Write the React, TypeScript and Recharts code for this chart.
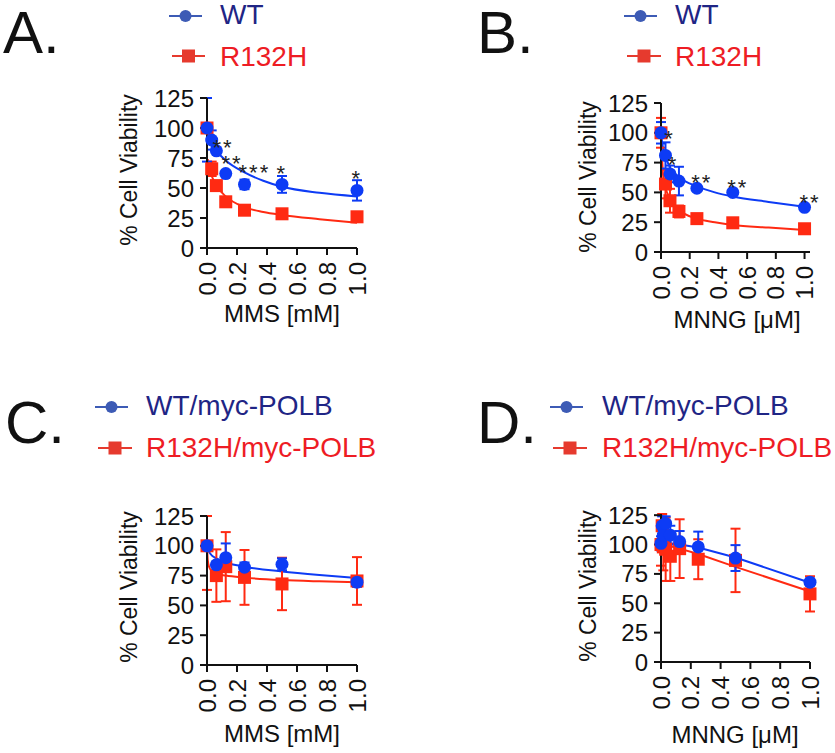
import React from 'react';
import { ComposedChart, Scatter, Line, XAxis, YAxis, ErrorBar, Legend } from 'recharts';

const BLUE = '#0d3bf5';
const RED = '#ff2a12';
const LEG_BLUE = '#3d5bb5';
const LEG_RED = '#e63a2e';
const TXT_BLUE = '#1f2585';
const TXT_RED = '#ee1c24';
const FONT = '"Liberation Sans", Arial, sans-serif';

const Y_TICKS = [0, 25, 50, 75, 100, 125];
const X_TICKS = [0, 0.2, 0.4, 0.6, 0.8, 1.0];

// A. MMS, WT vs R132H
const DOSE_A = [0, 0.03125, 0.0625, 0.125, 0.25, 0.5, 1.0];
const WT_A = [100, 90, 81, 62, 53, 53, 48];
const WT_A_ERR: (number | number[])[] = [[28, 25], 8, 0, 0, 4, 7, 8.5];
const R_A = [100, 66, 52, 38.5, 31.5, 28.5, 26];
const R_A_ERR = [0, 6, 2, 2, 3, 3, 3];
const FIT_WT_A_X = [0, 0.01, 0.03125, 0.0625, 0.125, 0.25, 0.375, 0.5, 0.75, 1.0];
const FIT_WT_A_Y = [100, 94, 87, 81, 73, 63, 56, 51, 46, 43];
const FIT_R_A_X = [0.005, 0.015, 0.03125, 0.0625, 0.125, 0.25, 0.375, 0.5, 0.75, 1.0];
const FIT_R_A_Y = [74, 66, 60, 52, 43, 34, 30, 27.5, 24, 21];
const STARS_A_X = [0.107, 0.167, 0.316, 0.498, 0.998];
const STARS_A_Y = [88.6, 75, 67.2, 66.4, 62.8];
const STARS_A_T = ['**', '**', '***', '*', '*'];

// B. MNNG, WT vs R132H
const DOSE_B = [0, 0.03125, 0.0625, 0.125, 0.25, 0.5, 1.0];
const WT_B = [100, 81, 65.5, 59.5, 53.5, 50, 37.5];
const WT_B_ERR = [9, 11, 7, 12, 1.5, 1.5, 1.5];
const R_B = [100, 57, 43, 34, 28, 24.5, 19.5];
const R_B_ERR = [12.5, 12, 10, 5, 1.5, 1.5, 1.5];
const FIT_WT_B_X = [0, 0.01, 0.03125, 0.0625, 0.125, 0.25, 0.375, 0.5, 0.75, 1.0];
const FIT_WT_B_Y = [100, 90, 80, 71, 63, 55, 50, 46.5, 42, 38];
const FIT_R_B_X = [0.003, 0.015, 0.03125, 0.0625, 0.125, 0.25, 0.375, 0.5, 0.75, 1.0];
const FIT_R_B_Y = [90, 64, 54, 45, 35.5, 28, 25, 22.7, 20.5, 18.5];
const STARS_B_X = [0.06, 0.083, 0.284, 0.535, 1.038];
const STARS_B_Y = [99.6, 77.8, 63.2, 59, 46.4];
const STARS_B_T = ['*', '*', '**', '**', '**'];

// C. MMS, +myc-POLB
const DOSE_C = [0, 0.0625, 0.125, 0.25, 0.5, 1.0];
const WT_C = [100, 84, 90, 82, 84.5, 69.5];
const WT_C_ERR = [2, 2, 12, 4, 5, 4];
const R_C = [100, 75, 82.5, 73.5, 68, 70.5];
const R_C_ERR: (number | number[])[] = [[37, 25], 22, 29, 23, 22, 20];
const FIT_WT_C_X = [0, 0.01, 0.03125, 0.0625, 0.125, 0.25, 0.5, 0.75, 1.0];
const FIT_WT_C_Y = [100, 96, 92, 89.5, 86, 82.5, 78.5, 75.5, 73];
const FIT_R_C_X = [0, 0.005, 0.015, 0.03125, 0.0625, 0.125, 0.25, 0.5, 0.75, 1.0];
const FIT_R_C_Y = [100, 88, 82, 79, 76.5, 75, 73.3, 71.3, 70.2, 69.4];

// D. MNNG, +myc-POLB
const DOSE_D = [0, 0.0078, 0.0156, 0.03125, 0.0625, 0.125, 0.25, 0.5, 1.0];
const WT_D = [101, 116, 108, 118, 108, 102.5, 98, 88.5, 68];
const WT_D_ERR = [6, 8, 6, 6, 8, 9, 13, 11, 3];
const R_D = [100, 116, 98, 96, 90, 96.5, 87.5, 86.5, 58];
const R_D_ERR = [18, 10, 20, 27, 21, 25, 17, 27, 15];
const FIT_WT_D_X = [0.02, 0.0625, 0.125, 0.25, 0.5, 1.0];
const FIT_WT_D_Y = [101.5, 101, 100, 97.5, 89, 67.5];
const FIT_R_D_X = [0.02, 0.0625, 0.125, 0.25, 0.5, 1.0];
const FIT_R_D_Y = [99.5, 98.5, 96.5, 92, 81, 60];

const pts = (xs: number[], ys: number[], errs?: (number | number[])[]) =>
  xs.map((x, i) => ({ x, y: ys[i], err: errs ? errs[i] : 0 }));
const stars = (xs: number[], ys: number[], ts: string[]) =>
  xs.map((x, i) => ({ x, y: ys[i], t: ts[i] }));

const Circle = (p: any) => <circle cx={p.cx} cy={p.cy} r={6.5} fill={BLUE} />;
const Square = (p: any) => <rect x={p.cx - 6.5} y={p.cy - 6.5} width={13} height={13} fill={RED} />;
const Star = (p: any) => (
  <text x={p.cx} y={p.cy + 13} textAnchor="middle" fontSize={22} letterSpacing={2} fill="#222">
    {p.payload.t}
  </text>
);

const RotTick = (p: any) => (
  <text
    x={p.x}
    y={p.y}
    transform={`rotate(-90 ${p.x} ${p.y})`}
    textAnchor="end"
    dominantBaseline="central"
    fontSize={24}
    fill="#111"
  >
    {Number(p.payload.value).toFixed(1)}
  </text>
);

type Row = { x1: number; x2: number; y: number; tx: number; ty: number };

function Panel(props: any) {
  const {
    left, top, width, height, margin, letter, letterX, letterY, rows, labels,
    yTitle, xTitle, wt, r, wtFit, rFit, starData, lineType,
  } = props;
  const legend = () => {
    const [b, rr]: Row[] = rows;
    return (
      <svg width={width} height={90} style={{ display: 'block' }}>
        <text x={letterX} y={letterY} fontSize={60} fill="#111">{letter}</text>
        <line x1={b.x1} x2={b.x2} y1={b.y} y2={b.y} stroke={LEG_BLUE} strokeWidth={2} />
        <circle cx={(b.x1 + b.x2) / 2} cy={b.y} r={6} fill={LEG_BLUE} />
        <text x={b.tx} y={b.ty} fontSize={28} fill={TXT_BLUE}>{labels[0]}</text>
        <line x1={rr.x1} x2={rr.x2} y1={rr.y} y2={rr.y} stroke={LEG_RED} strokeWidth={2} />
        <rect x={(rr.x1 + rr.x2) / 2 - 6.5} y={rr.y - 6.5} width={13} height={13} fill={LEG_RED} />
        <text x={rr.tx} y={rr.ty} fontSize={28} fill={TXT_RED}>{labels[1]}</text>
      </svg>
    );
  };
  return (
    <div style={{ position: 'absolute', left, top, width, height }}>
      <ComposedChart width={width} height={height} margin={margin}>
        <XAxis
          dataKey="x"
          type="number"
          domain={[0, 1]}
          ticks={X_TICKS}
          interval={0}
          tick={<RotTick />}
          tickSize={7}
          tickMargin={7}
          height={50}
          axisLine={{ stroke: '#111', strokeWidth: 2 }}
          tickLine={{ stroke: '#111', strokeWidth: 2 }}
          label={{
            content: () => (
              <text x={xTitle[1]} y={xTitle[2]} textAnchor="middle" fontSize={24} fill="#111">
                {xTitle[0]}
              </text>
            ),
          }}
        />
        <YAxis
          type="number"
          domain={[0, 125]}
          ticks={Y_TICKS}
          interval={0}
          width={60}
          tickSize={7}
          tickMargin={6}
          tick={{ fontSize: 24, fill: '#111' }}
          axisLine={{ stroke: '#111', strokeWidth: 2 }}
          tickLine={{ stroke: '#111', strokeWidth: 2 }}
          label={{
            content: () => (
              <text
                x={yTitle[0]}
                y={yTitle[1]}
                transform={`rotate(-90 ${yTitle[0]} ${yTitle[1]})`}
                textAnchor="middle"
                dominantBaseline="central"
                fontSize={23}
                fill="#111"
              >
                % Cell Viability
              </text>
            ),
          }}
        />
        <Legend layout="vertical" align="center" verticalAlign="middle" content={legend}
          wrapperStyle={{ left: 0, top: 0, width, height: 90 }} />
        <Line data={rFit} dataKey="y" type={lineType} stroke={RED} strokeWidth={2} dot={false}
          isAnimationActive={false} legendType="none" />
        <Line data={wtFit} dataKey="y" type={lineType} stroke={BLUE} strokeWidth={2} dot={false}
          isAnimationActive={false} legendType="none" />
        <Scatter data={r} dataKey="y" shape={Square} isAnimationActive={false}>
          <ErrorBar dataKey="err" direction="y" width={5} stroke={RED} strokeWidth={2} />
        </Scatter>
        <Scatter data={wt} dataKey="y" shape={Circle} isAnimationActive={false}>
          <ErrorBar dataKey="err" direction="y" width={5} stroke={BLUE} strokeWidth={2} />
        </Scatter>
        {starData && <Scatter data={starData} dataKey="y" shape={Star} isAnimationActive={false} />}
      </ComposedChart>
    </div>
  );
}

export default function App() {
  return (
    <div style={{ position: 'absolute', left: 0, top: 0, width: 835, height: 753, background: '#fff', fontFamily: FONT }}>
      <Panel
        left={0} top={0} width={420} height={376}
        margin={{ top: 98, left: 147, right: 63, bottom: 78 }}
        letter="A." letterX={3} letterY={53}
        rows={[{ x1: 169, x2: 202, y: 16, tx: 220, ty: 24 }, { x1: 172, x2: 205, y: 56, tx: 220, ty: 66 }]}
        labels={['WT', 'R132H']}
        yTitle={[129, 170]} xTitle={['MMS [mM]', 282, 322]}
        wt={pts(DOSE_A, WT_A, WT_A_ERR)} r={pts(DOSE_A, R_A, R_A_ERR)}
        wtFit={pts(FIT_WT_A_X, FIT_WT_A_Y)} rFit={pts(FIT_R_A_X, FIT_R_A_Y)}
        starData={stars(STARS_A_X, STARS_A_Y, STARS_A_T)} lineType="monotone"
      />
      <Panel
        left={420} top={0} width={415} height={376}
        margin={{ top: 103, left: 181, right: 25, bottom: 74 }}
        letter="B." letterX={57} letterY={53}
        rows={[{ x1: 204, x2: 237, y: 16, tx: 255, ty: 24 }, { x1: 207, x2: 241, y: 56, tx: 255, ty: 66 }]}
        labels={['WT', 'R132H']}
        yTitle={[168, 177]} xTitle={['MNNG [μM]', 317, 328]}
        wt={pts(DOSE_B, WT_B, WT_B_ERR)} r={pts(DOSE_B, R_B, R_B_ERR)}
        wtFit={pts(FIT_WT_B_X, FIT_WT_B_Y)} rFit={pts(FIT_R_B_X, FIT_R_B_Y)}
        starData={stars(STARS_B_X, STARS_B_Y, STARS_B_T)} lineType="monotone"
      />
      <Panel
        left={0} top={376} width={420} height={377}
        margin={{ top: 140, left: 147, right: 63, bottom: 38 }}
        letter="C." letterX={5} letterY={67}
        rows={[{ x1: 95, x2: 128, y: 31, tx: 146, ty: 39 }, { x1: 98, x2: 132, y: 72, tx: 146, ty: 81 }]}
        labels={['WT/myc-POLB', 'R132H/myc-POLB']}
        yTitle={[129, 211]} xTitle={['MMS [mM]', 282, 366]}
        wt={pts(DOSE_C, WT_C, WT_C_ERR)} r={pts(DOSE_C, R_C, R_C_ERR)}
        wtFit={pts(FIT_WT_C_X, FIT_WT_C_Y)} rFit={pts(FIT_R_C_X, FIT_R_C_Y)}
        lineType="monotone"
      />
      <Panel
        left={420} top={376} width={415} height={377}
        margin={{ top: 138, left: 181, right: 25, bottom: 41 }}
        letter="D." letterX={57} letterY={67}
        rows={[{ x1: 130, x2: 163, y: 31, tx: 182, ty: 39 }, { x1: 133, x2: 167, y: 72, tx: 182, ty: 81 }]}
        labels={['WT/myc-POLB', 'R132H/myc-POLB']}
        yTitle={[168, 210]} xTitle={['MNNG [μM]', 315, 367]}
        wt={pts(DOSE_D, WT_D, WT_D_ERR)} r={pts(DOSE_D, R_D, R_D_ERR)}
        wtFit={pts(FIT_WT_D_X, FIT_WT_D_Y)} rFit={pts(FIT_R_D_X, FIT_R_D_Y)}
        lineType="linear"
      />
    </div>
  );
}
